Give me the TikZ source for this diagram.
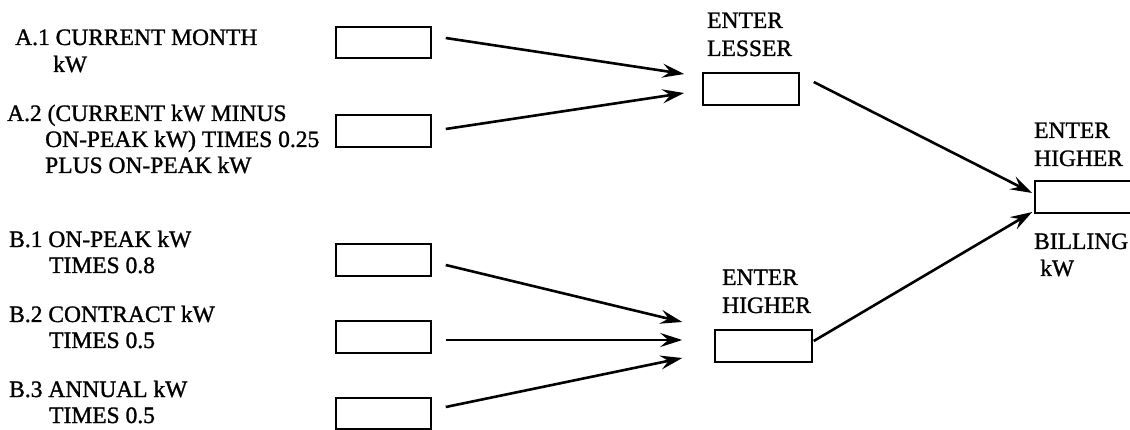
\documentclass[tikz,border=0pt]{standalone}
\usepackage{fontspec}
\setmainfont{Liberation Serif}[FakeBold=1.2]
\usetikzlibrary{arrows.meta,calc}
\begin{document}
\begin{tikzpicture}[x=1pt,y=-1pt,
  lbl/.style={anchor=base west,inner sep=0pt,font=\fontsize{23.5}{26}\selectfont},
  inbox/.style={draw,line width=1.5pt,minimum width=95pt,minimum height=31pt,inner sep=0pt},
  flow/.style={line width=2.6pt,-{Stealth[length=22pt,width=14pt,inset=8pt]}}]
\clip (0,0) rectangle (1130,430);
\useasboundingbox (0,0) rectangle (1130,430);
% labels
\node[lbl] (t1) at (15,45) {A.1 CURRENT MONTH};
\node[lbl] (t2) at (53,72) {kW};
\node[lbl] (t3) at (7,121) {A.2 (CURRENT kW MINUS};
\node[lbl] (t4) at (45,147) {ON-PEAK kW) TIMES 0.25};
\node[lbl] (t5) at (45,173) {PLUS ON-PEAK kW};
\node[lbl] (t6) at (9,247) {B.1 ON-PEAK kW};
\node[lbl] (t7) at (49,273) {TIMES 0.8};
\node[lbl] (t8) at (9,322) {B.2 CONTRACT kW};
\node[lbl] (t9) at (49,348) {TIMES 0.5};
\node[lbl] (t10) at (9,397) {B.3 ANNUAL kW};
\node[lbl] (t11) at (49,423) {TIMES 0.5};
\node[lbl] (t12) at (707,28) {ENTER};
\node[lbl] (t13) at (707,56) {LESSER};
\node[lbl] (t14) at (722,285) {ENTER};
\node[lbl] (t15) at (722,313) {HIGHER};
\node[lbl] (t16) at (1034,138) {ENTER};
\node[lbl] (t17) at (1034,166) {HIGHER};
\node[lbl] (t18) at (1034,249) {BILLING};
\node[lbl] (t19) at (1040,276) {kW};
% boxes
\node[inbox] (a1) at (383.5,42.5) {};
\node[inbox,minimum height=32pt] (a2) at (383.5,131) {};
\node[inbox,minimum height=32pt] (b1) at (383.5,260) {};
\node[inbox,minimum height=32pt] (b2) at (383.5,337) {};
\node[inbox] (b3) at (383.5,413.5) {};
\node[inbox,minimum width=96pt,minimum height=32pt] (lesser) at (751,89) {};
\node[inbox,minimum width=97pt,minimum height=32pt] (higher) at (763.5,346) {};
\node[inbox,minimum width=130pt,minimum height=32pt] (final) at (1100,197) {};
% connectors
\draw[flow] ($(a1.east)+(14,-4.5)$) -- ($(lesser.west)+(-18,-15)$);
\draw[flow] ($(a2.east)+(14,-2)$) -- ($(lesser.west)+(-18,4)$);
\draw[flow] ($(lesser.east)+(14,-7)$) -- ($(final.west)+(-2,-4)$);
\draw[flow] ($(b1.east)+(14,5)$) -- ($(higher.west)+(-32,-24)$);
\draw[flow] ($(b2.east)+(14,3)$) -- ($(higher.west)+(-32,-6)$);
\draw[flow] ($(b3.east)+(14,-6.5)$) -- ($(higher.west)+(-32,12)$);
\draw[flow] ($(higher.east)+(1,-5)$) -- ($(final.west)+(-2,15)$);
\end{tikzpicture}
\end{document}
